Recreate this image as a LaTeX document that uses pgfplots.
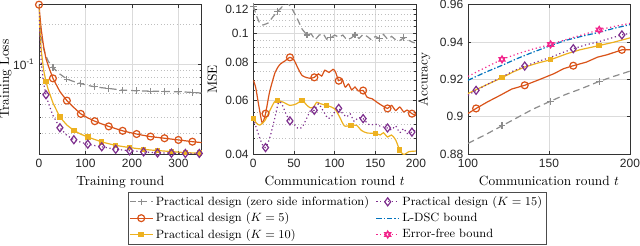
\documentclass[border=0pt]{standalone}
\usepackage{fontspec}
\usepackage{pgfplots}
\pgfplotsset{compat=1.18}
\newfontfamily\tickfont{Liberation Sans}
\definecolor{mgray}{rgb}{0.55,0.55,0.55}
\definecolor{morange}{rgb}{0.85,0.325,0.098}
\definecolor{myellow}{rgb}{0.929,0.694,0.125}
\definecolor{mpurple}{rgb}{0.494,0.184,0.556}
\definecolor{mblue}{rgb}{0,0.447,0.741}
\definecolor{mpink}{rgb}{0.95,0.15,0.55}

\pgfdeclareplotmark{hexagram}{%
  \pgfpathmoveto{\pgfpointpolar{90}{\pgfplotmarksize}}%
  \pgfpathlineto{\pgfpointpolar{210}{\pgfplotmarksize}}%
  \pgfpathlineto{\pgfpointpolar{330}{\pgfplotmarksize}}%
  \pgfpathclose
  \pgfpathmoveto{\pgfpointpolar{270}{\pgfplotmarksize}}%
  \pgfpathlineto{\pgfpointpolar{30}{\pgfplotmarksize}}%
  \pgfpathlineto{\pgfpointpolar{150}{\pgfplotmarksize}}%
  \pgfpathclose
  \pgfusepathqstroke}

\pgfplotsset{
  mstyle/.style={
    scale only axis, width=122pt, height=112pt,
    axis line style={black!80}, tick style={black!80, line width=0.4pt},
    tick align=inside, major tick length=2.5pt, minor tick length=1.5pt,
    ticklabel style={font=\tickfont\fontsize{9}{10}\selectfont, text=black!85},
    label style={font=\fontsize{10}{12}\selectfont},
    major grid style={black!14, line width=0.4pt},
    minor grid style={black!25, dotted, line width=0.4pt},
    every axis plot/.append style={line width=0.9pt},
  },
  sgray/.style={mgray, dash pattern=on 5pt off 3pt, mark=+, mark size=2.5pt, mark options={solid}},
  sorange/.style={morange, solid, mark=o, mark size=2.6pt, mark options={solid}},
  syellow/.style={myellow, solid, mark=square*, mark size=1.6pt, mark options={solid}},
  spurple/.style={mpurple, dotted, mark=diamond, mark size=3pt, mark options={solid}},
  sblue/.style={mblue, dash pattern=on 4pt off 1.5pt on 1pt off 1.5pt},
  spink/.style={mpink, dotted, mark=hexagram, mark size=2.6pt, mark options={solid}},
}

\begin{document}
\begin{tikzpicture}
% ---------------- Left: training loss ----------------
\begin{axis}[mstyle, at={(29.25pt,69pt)}, anchor=south west,
  xmin=0, xmax=350, ymode=log, ymin=0.021, ymax=0.28,
  xtick={0,100,200,300}, xticklabels={0,100,200,300},
  ytick={0.1}, yticklabels={10\textsuperscript{-1}},
  minor ytick={0.03,0.04,0.05,0.06,0.07,0.08,0.09,0.2},
  xmajorgrids, ymajorgrids, yminorgrids,
  xlabel={Training round}, ylabel={Training Loss},
  ylabel style={at={(axis description cs:-0.14,0.5)}, anchor=south}]
\addplot[sgray, mark indices={7,9,11,13,15,17,19,21,23,25,27}] coordinates {
(0,0.28)(2,0.21)(5,0.16)(10,0.13)(15,0.115)(20,0.105)(30,0.094)(45,0.084)(60,0.077)(75,0.0738)(90,0.0713)(105,0.069)(120,0.0674)(135,0.0663)(150,0.0655)(165,0.0645)(180,0.0636)(195,0.0632)(210,0.0629)(225,0.0627)(240,0.0625)(255,0.0624)(270,0.0622)(285,0.062)(300,0.0618)(315,0.0615)(330,0.0611)(345,0.0606)(350,0.0604)};
\addplot[sorange, mark indices={1,7,9,11,13,15,17,19,21,23,25,27}] coordinates {
(0,0.28)(2,0.23)(5,0.18)(10,0.135)(15,0.11)(20,0.097)(30,0.078)(45,0.062)(60,0.053)(75,0.047)(90,0.0421)(105,0.0393)(120,0.0371)(135,0.0354)(150,0.0339)(165,0.0326)(180,0.0314)(195,0.0305)(210,0.0297)(225,0.029)(240,0.0284)(255,0.028)(270,0.0276)(285,0.0272)(300,0.0268)(315,0.0264)(330,0.026)(345,0.0257)(350,0.0256)};
\addplot[syellow, mark indices={5,8,10,12,14,16,18,20,22,24,26,28}] coordinates {
(0,0.28)(2,0.18)(5,0.125)(10,0.09)(15,0.0738)(20,0.064)(30,0.051)(45,0.0398)(60,0.0347)(75,0.0316)(90,0.0296)(105,0.0282)(120,0.027)(135,0.0259)(150,0.0251)(165,0.0244)(180,0.0239)(195,0.0235)(210,0.0231)(225,0.0228)(240,0.0225)(255,0.0223)(270,0.0221)(285,0.0219)(300,0.0217)(315,0.0215)(330,0.0214)(345,0.0213)(350,0.0213)};
\addplot[spurple, mark indices={5,8,10,12,14,16,18,20,22,24,26,28}] coordinates {
(0,0.28)(2,0.16)(5,0.1)(10,0.072)(15,0.0587)(20,0.051)(30,0.041)(45,0.0331)(60,0.029)(75,0.0269)(90,0.0257)(105,0.0249)(120,0.0243)(135,0.0238)(150,0.0233)(165,0.0228)(180,0.0225)(195,0.0222)(210,0.022)(225,0.0218)(240,0.0216)(255,0.0214)(270,0.0214)(285,0.0213)(300,0.0213)(315,0.0212)(330,0.0212)(345,0.0212)(350,0.0212)};
\end{axis}

% ---------------- Middle: MSE ----------------
\begin{axis}[mstyle, at={(190pt,69pt)}, anchor=south west,
  xmin=0, xmax=200, ymode=log, ymin=0.04, ymax=0.124,
  xtick={0,50,100,150,200}, xticklabels={0,50,100,150,200},
  ytick={0.04,0.06,0.08,0.1,0.12}, yticklabels={0.04,0.06,0.08,0.1,0.12},
  minor ytick={0.045,0.05,0.055,0.065,0.07,0.075,0.085,0.09,0.095,0.105,0.11,0.115},
  xmajorgrids, ymajorgrids, yminorgrids,
  xlabel={Communication round $t$}, ylabel={MSE},
  ylabel style={at={(axis description cs:-0.193,0.5)}, anchor=south}]
\addplot[sgray, mark indices={1,7,12,18,24,30,36}] coordinates {
(0,0.1226)(4,0.1136)(8,0.1075)(12,0.1063)(18,0.1078)(24,0.113)(30,0.118)(36,0.1225)(42,0.126)(47,0.121)(53,0.113)(60,0.103)(66,0.0985)(71,0.0995)(76,0.095)(81,0.0985)(86,0.0995)(90,0.0955)(95,0.0965)(100,0.0985)(105,0.097)(110,0.0985)(115,0.095)(120,0.0962)(125,0.0985)(130,0.096)(135,0.099)(140,0.0975)(145,0.095)(150,0.0975)(155,0.096)(160,0.099)(165,0.0955)(170,0.0975)(175,0.095)(180,0.0945)(185,0.0965)(190,0.095)(195,0.0935)(200,0.0925)};
\addplot[sorange, smooth, tension=0.4, mark indices={5,10,16,23,30,35,41}] coordinates {
(0,0.070)(3,0.066)(7,0.0571)(11,0.0505)(15,0.0543)(20,0.064)(27,0.0745)(33,0.079)(39,0.081)(45,0.0832)(50,0.0815)(55,0.0765)(60,0.0725)(66,0.0713)(70,0.071)(75,0.0715)(80,0.0734)(84,0.0722)(88,0.0755)(93,0.0742)(98,0.076)(101,0.0745)(105,0.0697)(109,0.0706)(113,0.0664)(117,0.068)(121,0.065)(125,0.0665)(129,0.0645)(135,0.0647)(140,0.0615)(146,0.0608)(152,0.0592)(158,0.0578)(165,0.0565)(170,0.0578)(175,0.0556)(180,0.0571)(185,0.055)(189,0.0558)(195,0.0543)(200,0.0535)};
\addplot[syellow, smooth, tension=0.4, mark indices={1,7,11,17,22,26,32}] coordinates {
(0,0.0523)(4,0.0505)(8,0.0498)(14,0.0514)(20,0.0554)(26,0.0594)(30,0.06)(37,0.0592)(45,0.0578)(53,0.0585)(60,0.06)(66,0.0578)(70,0.0568)(74,0.0571)(78,0.0592)(83,0.0585)(90,0.0578)(96,0.0571)(101,0.056)(106,0.053)(112,0.0495)(120,0.0497)(127,0.0497)(133,0.0478)(140,0.0469)(150,0.0468)(156,0.0462)(160,0.047)(165,0.0455)(170,0.0462)(175,0.0445)(180,0.0412)(185,0.0398)(191,0.0407)(200,0.0409)};
\addplot[spurple, smooth, tension=0.4, mark indices={4,10,16,22,28,33,39}] coordinates {
(0,0.0523)(6,0.0467)(11,0.043)(15,0.042)(20,0.045)(26,0.052)(31,0.0592)(35,0.0585)(40,0.0543)(45,0.0514)(51,0.0498)(55,0.0485)(60,0.049)(66,0.0527)(70,0.0554)(75,0.0557)(80,0.0585)(86,0.0554)(92,0.0523)(97,0.0535)(101,0.0554)(105,0.0565)(110,0.0543)(115,0.053)(119,0.0543)(124,0.0512)(129,0.0527)(135,0.0523)(140,0.0505)(144,0.0498)(150,0.0502)(156,0.0494)(165,0.0487)(170,0.048)(175,0.0495)(180,0.047)(185,0.0485)(189,0.0467)(195,0.0472)(200,0.048)};
\end{axis}

% ---------------- Right: accuracy ----------------
\begin{axis}[mstyle, width=121.5pt, at={(351pt,69pt)}, anchor=south west,
  xmin=100, xmax=200, ymin=0.88, ymax=0.96,
  xtick={100,150,200}, xticklabels={100,150,200},
  ytick={0.88,0.9,0.92,0.94,0.96}, yticklabels={0.88,0.9,0.92,0.94,0.96},
  xmajorgrids, ymajorgrids,
  xlabel={Communication round $t$}, ylabel={Accuracy},
  ylabel style={at={(axis description cs:-0.203,0.5)}, anchor=south},
  legend columns=2, legend cell align=left,
  legend style={at={(-0.8086,-0.255)}, anchor=north,
    font=\fontsize{9}{10.5}\selectfont, draw=black!70, line width=0.4pt,
    inner sep=1pt, row sep=0pt,
    /tikz/every even column/.append style={column sep=3pt}}]
\addplot[sgray, forget plot, mark indices={3,6,9}] coordinates {
(100,0.8857)(110,0.89)(121,0.8951)(130,0.8993)(140,0.904)(151,0.9083)(160,0.9118)(170,0.915)(181,0.9189)(190,0.9216)(200,0.9244)};
\addplot[sorange, forget plot, mark indices={2,6,10,14}] coordinates {
(100,0.9017)(105,0.9044)(112,0.9079)(120,0.9115)(127,0.9148)(135,0.9168)(143,0.9195)(153,0.923)(159,0.9257)(165,0.9273)(173,0.9292)(180,0.9319)(186,0.9332)(195,0.9358)(200,0.9358)};
\addplot[syellow, forget plot, mark indices={3,7,10}] coordinates {
(100,0.9124)(110,0.9165)(121,0.9209)(128,0.924)(135,0.9266)(143,0.9287)(151,0.9305)(161,0.9337)(169,0.9358)(181,0.9381)(190,0.9399)(200,0.9422)};
\addplot[spurple, forget plot, mark indices={2,6,10,14}] coordinates {
(100,0.9115)(105,0.9141)(113,0.9178)(121,0.9212)(128,0.9245)(135,0.9271)(143,0.9295)(151,0.9318)(158,0.9342)(165,0.9364)(172,0.9383)(180,0.94)(188,0.942)(195,0.9438)(200,0.9447)};
\addplot[sblue, forget plot] coordinates {
(100,0.9195)(110,0.9235)(121,0.9275)(130,0.931)(140,0.9345)(151,0.9381)(160,0.9408)(170,0.943)(181,0.9452)(190,0.9473)(200,0.9493)};
\addplot[spink, forget plot, mark indices={3,6,9}] coordinates {
(100,0.9216)(110,0.926)(121,0.9307)(130,0.9335)(140,0.9362)(151,0.9387)(160,0.9412)(170,0.9437)(181,0.9465)(190,0.9483)(200,0.95)};
\addlegendimage{sgray, line width=0.9pt}
\addlegendentry{Practical design (zero side information)}
\addlegendimage{spurple, line width=0.9pt}
\addlegendentry{Practical design ($K=15$)}
\addlegendimage{sorange, line width=0.9pt}
\addlegendentry{Practical design ($K=5$)}
\addlegendimage{sblue, line width=0.9pt}
\addlegendentry{L-DSC bound}
\addlegendimage{syellow, line width=0.9pt}
\addlegendentry{Practical design ($K=10$)}
\addlegendimage{spink, line width=0.9pt}
\addlegendentry{Error-free bound}
\end{axis}
\pgfresetboundingbox
\path[use as bounding box] (0,0) rectangle (480pt,184.5pt);
\end{tikzpicture}
\end{document}
